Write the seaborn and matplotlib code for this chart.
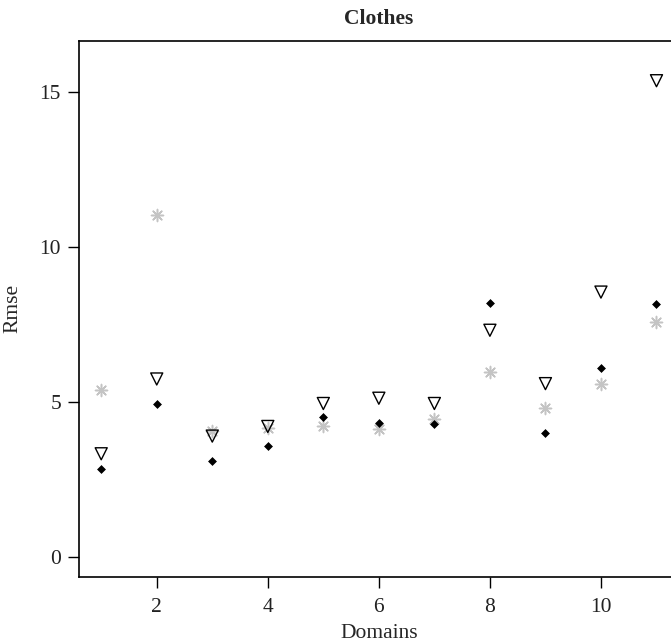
import matplotlib
matplotlib.use("Agg")
import matplotlib.pyplot as plt
import seaborn as sns
import pandas as pd

# Per-domain RMSE for three estimators
domains = list(range(1, 12))
rmse_diamond = [2.85, 4.93, 3.09, 3.58, 4.50, 4.33, 4.28, 8.19, 4.00, 6.10, 8.17]
rmse_triangle = [3.33, 5.74, 3.90, 4.21, 4.95, 5.12, 4.95, 7.31, 5.59, 8.54, 15.35]
rmse_asterisk = [5.40, 11.03, 4.08, 4.17, 4.24, 4.12, 4.46, 5.98, 4.79, 5.58, 7.59]

title = "Clothes"
xlabel = "Domains"
ylabel = "Rmse"
xticks = [2, 4, 6, 8, 10]
yticks = [0, 5, 10, 15]

sns.set_style("white")
plt.rcParams["font.family"] = ["Liberation Serif", "DejaVu Serif"]
fs = 15.5
plt.rcParams["font.size"] = fs

df = pd.DataFrame({
    "domain": domains,
    "diamond": rmse_diamond,
    "triangle": rmse_triangle,
    "asterisk": rmse_asterisk,
})

fig = plt.figure(figsize=(6.71, 6.44), dpi=100)
ax = fig.add_axes([79 / 671, 1 - 577 / 644, 599.7 / 671, 536.3 / 644])

sns.scatterplot(data=df, x="domain", y="asterisk", ax=ax, marker=(8, 2, 0),
                color="#c4c4c4", s=75, linewidth=1.1, zorder=2)
sns.scatterplot(data=df, x="domain", y="triangle", ax=ax, marker="v",
                facecolor="none", edgecolor="black", s=75, linewidth=1.0, zorder=3)
sns.scatterplot(data=df, x="domain", y="diamond", ax=ax, marker="D",
                color="black", edgecolor="black", s=16, linewidth=0.5, zorder=4)

# R-style padded limits
ax.set_xlim(1 - 0.4, 11 + 0.4)
ax.set_ylim(0 - 0.64, 16 + 0.64)
ax.set_xticks(xticks)
ax.set_yticks(yticks)
ax.set_xticklabels([str(t) for t in xticks])
ax.set_yticklabels([str(t) for t in yticks])

for side in ["left", "bottom", "top", "right"]:
    ax.spines[side].set_visible(True)
    ax.spines[side].set_color("black")
    ax.spines[side].set_linewidth(1.2)

ax.tick_params(axis="both", direction="out", length=8, width=1.0,
               bottom=True, left=True, top=False, right=False,
               color="black", labelsize=fs, labelcolor="#222222")
ax.tick_params(axis="x", pad=7)
ax.tick_params(axis="y", pad=5)

ax.set_title(title, fontweight="bold", fontsize=fs, pad=12)
ax.set_xlabel(xlabel, fontsize=fs)
ax.set_ylabel(ylabel, fontsize=fs)
ax.xaxis.set_label_coords(0.5, -0.088)
ax.yaxis.set_label_coords(-0.094, 0.5)

fig.savefig("out.png", dpi=100)
